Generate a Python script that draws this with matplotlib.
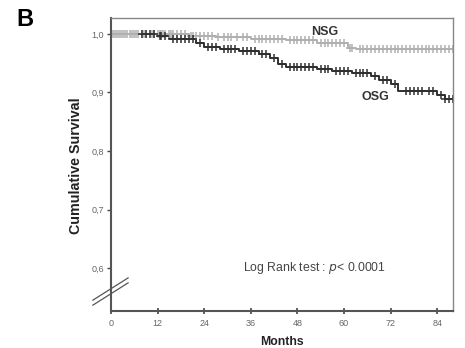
import matplotlib
matplotlib.use("Agg")
import matplotlib.pyplot as plt
import numpy as np

plt.rcParams['font.family'] = ['Liberation Sans', 'DejaVu Sans']

# Kaplan-Meier step data (time in months, cumulative survival)
nsg_times = [0, 10, 20, 27, 36, 45, 53, 61, 63, 88]
nsg_surv = [1.0, 0.999, 0.997, 0.995, 0.992, 0.989, 0.984, 0.975, 0.974, 0.974]
osg_times = [0, 12, 15, 22, 24, 28, 33, 38, 41, 43, 45, 53, 57, 62, 67, 69, 72, 74, 84, 86, 88]
osg_surv = [1.0, 0.996, 0.991, 0.985, 0.978, 0.974, 0.970, 0.965, 0.958, 0.948, 0.944,
            0.940, 0.936, 0.933, 0.928, 0.921, 0.914, 0.903, 0.895, 0.889, 0.889]

# censored observations
nsg_censor = [0.5, 1, 1.5, 2, 2.5, 3, 3.5, 4, 5, 5.5, 6, 6.5, 7, 8, 8.5, 9, 10.5, 11, 12, 12.5,
              13, 13.5, 14, 15, 15.5, 16, 17, 18, 19, 20.5, 21, 22, 23, 24, 25, 26, 27.5, 29,
              30, 31, 32.5, 34, 35, 37, 38, 39, 40, 41, 42, 43, 44, 46, 47, 48, 49, 50, 51,
              52, 54, 55, 56, 57, 58, 59, 60, 61.5, 62, 64, 65, 66, 67, 68, 69, 70, 71, 72,
              73, 74, 75, 76, 77, 78, 79, 80, 81, 82, 83, 84, 85, 86, 87, 88]
osg_censor = [8, 9, 10, 11, 12.5, 13, 14, 16, 17, 18, 19, 20, 21, 23, 25, 26, 27, 29, 30, 31,
              32, 34, 35, 36, 37, 39, 40, 42, 44, 46, 47, 48, 49, 50, 51, 52, 54, 55, 56, 58,
              59, 60, 61, 63, 64, 65, 66, 68, 70, 71, 73, 76, 77, 78, 79, 80, 82, 83, 85, 86,
              87, 88]

xticks = [0, 12, 24, 36, 48, 60, 72, 84]
yticks = [0.6, 0.7, 0.8, 0.9, 1.0]
ytick_labels = ["0,6", "0,7", "0,8", "0,9", "1,0"]


def step_value(times, surv, t):
    idx = np.searchsorted(times, t, side='right') - 1
    return np.array(surv)[idx]


fig = plt.figure(figsize=(4.65, 3.48), dpi=100)
ax = fig.add_axes([0.2387, 0.1063, 0.735, 0.842])

nsg_col = '#b0b0b0'
osg_col = '#303030'

ax.step(nsg_times, nsg_surv, where='post', color=nsg_col, lw=1.4)
ax.step(osg_times, osg_surv, where='post', color=osg_col, lw=1.4)
ax.plot(nsg_censor, step_value(nsg_times, nsg_surv, nsg_censor), ls='none',
        marker='+', ms=6, mew=1.1, color=nsg_col)
ax.plot(osg_censor, step_value(osg_times, osg_surv, osg_censor), ls='none',
        marker='+', ms=6, mew=1.1, color=osg_col)

ax.set_xlim(0, 88)
ax.set_ylim(0.527, 1.027)
ax.set_xticks(xticks)
ax.set_xticklabels([str(t) for t in xticks])
ax.set_yticks(yticks)
ax.set_yticklabels(ytick_labels)

ax.tick_params(axis='x', direction='inout', length=5, width=1.2, labelsize=6.5,
               labelcolor='#666666', color='#444444', pad=3)
ax.tick_params(axis='y', direction='out', length=3, width=1.0, labelsize=6.5,
               labelcolor='#666666', color='#444444', pad=2)

for side in ['left', 'bottom']:
    ax.spines[side].set_color('#555555')
    ax.spines[side].set_linewidth(1.5)
for side in ['top', 'right']:
    ax.spines[side].set_color('#888888')
    ax.spines[side].set_linewidth(1.0)

ax.set_ylabel('Cumulative Survival', fontsize=10.3, fontweight='bold', color='#222222')
ax.yaxis.set_label_coords(-0.082, 0.495)
ax.set_xlabel('Months', fontsize=8.8, fontweight='bold', color='#222222')
ax.xaxis.set_label_coords(0.5, -0.087)

ax.text(55, 1.003, 'NSG', fontsize=9, fontweight='bold', color='#333333',
        ha='center', va='center')
ax.text(68, 0.892, 'OSG', fontsize=9, fontweight='bold', color='#333333',
        ha='center', va='center')
ax.text(52.5, 0.6, r'Log Rank test : $\it{p}$< 0.0001', fontsize=8.8,
        color='#444444', ha='center', va='center')

# axis break marks
ax.plot([-0.053, 0.05], [0.037, 0.113], transform=ax.transAxes, color='#555555',
        lw=0.9, clip_on=False)
ax.plot([-0.053, 0.05], [0.020, 0.096], transform=ax.transAxes, color='#555555',
        lw=0.9, clip_on=False)

fig.text(0.054, 0.945, 'B', fontsize=17, fontweight='bold', ha='center', va='center')

fig.savefig('out.png', dpi=100)
